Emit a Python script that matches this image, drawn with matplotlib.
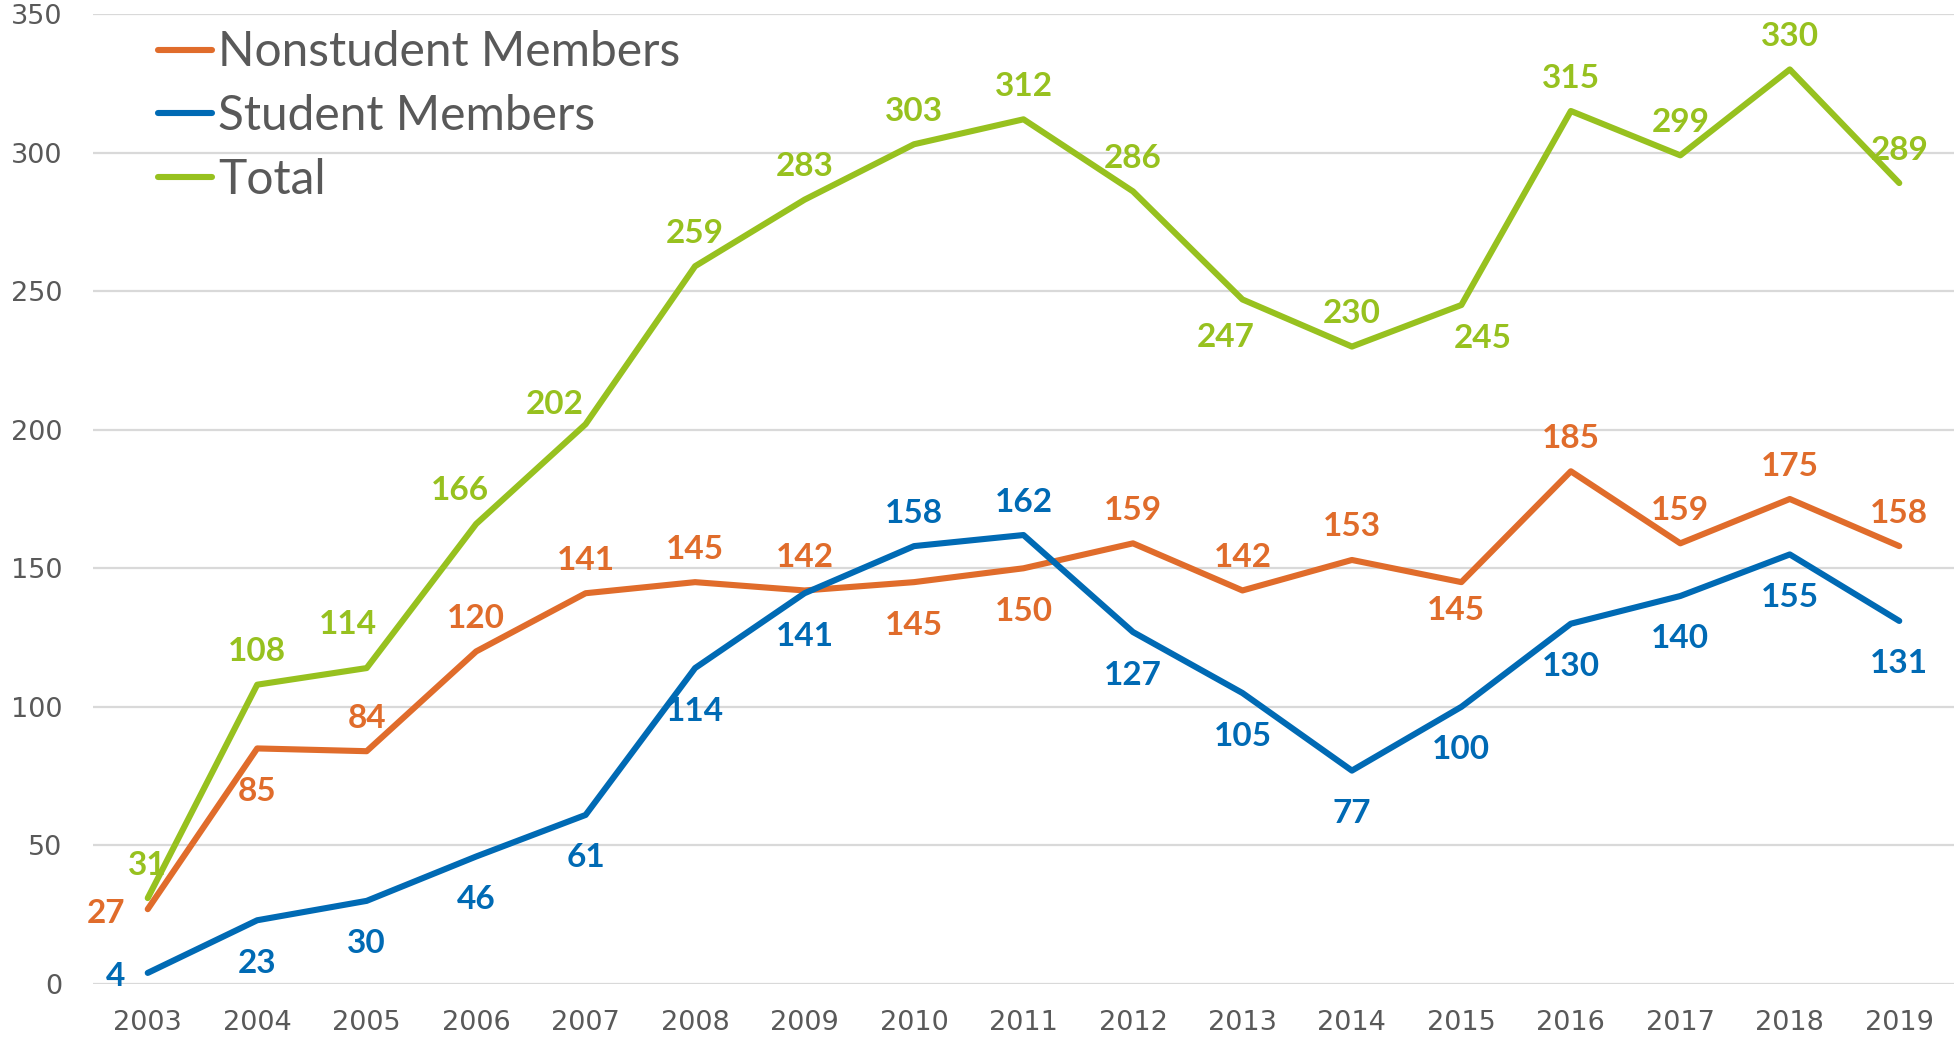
import numpy as np
import matplotlib.pyplot as plt

years = ["2003", "2004", "2005", "2006", "2007", "2008", "2009", "2010", "2011",
         "2012", "2013", "2014", "2015", "2016", "2017", "2018", "2019"]
nonstudent = [27, 85, 84, 120, 141, 145, 142, 145, 150, 159, 142, 153, 145, 185, 159, 175, 158]
student = [4, 23, 30, 46, 61, 114, 141, 158, 162, 127, 105, 77, 100, 130, 140, 155, 131]
total = [31, 108, 114, 166, 202, 259, 283, 303, 312, 286, 247, 230, 245, 315, 299, 330, 289]

# where each data label sits relative to its point
pos_non = ["l", "b", "a", "a", "a", "a", "a", "b", "b", "a", "a", "a", "b2", "a", "a", "a", "a"]
pos_stu = ["l", "b", "b", "b", "b", "b", "b", "a", "a", "b", "b", "b", "b", "b", "b", "b", "b"]
pos_tot = ["a", "a", "al1", "al2", "al3", "a", "a", "a", "a", "a", "bl", "a", "br", "a", "a", "a", "a"]

offsets = {
    "a": (0, 33, "center"), "b": (0, -43, "center"), "b2": (-5, -28, "center"),
    "l": (-22, -4, "right"),
    "al1": (-19, 44, "center"), "al2": (-16, 33, "center"), "al3": (-31, 20, "center"),
    "bl": (-17, -38, "center"), "br": (21, -33, "center"),
}

c_non = "#E06C2B"
c_stu = "#006AB4"
c_tot = "#97C11F"

fig = plt.figure(figsize=(19.54, 10.38), dpi=100)
ax = fig.add_axes([93 / 1954, 54 / 1038, 1 - 93 / 1954, 970 / 1038])

x = np.arange(len(years))
lw = 4.4
ax.plot(x, nonstudent, color=c_non, lw=lw, solid_capstyle="round", solid_joinstyle="round", label="Nonstudent Members", zorder=3)
ax.plot(x, student, color=c_stu, lw=lw, solid_capstyle="round", solid_joinstyle="round", label="Student Members", zorder=3)
ax.plot(x, total, color=c_tot, lw=lw, solid_capstyle="round", solid_joinstyle="round", label="Total", zorder=3)

lab_font = ["Lato", "DejaVu Sans"]
for vals, poss, col in [(nonstudent, pos_non, c_non), (student, pos_stu, c_stu), (total, pos_tot, c_tot)]:
    for i, (v, p) in enumerate(zip(vals, poss)):
        dx, dy, ha = offsets[p]
        ax.annotate(str(v), (x[i], v), xytext=(dx, dy), textcoords="offset pixels",
                    ha=ha, va="center", color=col, fontsize=24, fontweight="bold",
                    family=lab_font, zorder=4)

ax.set_xlim(-0.5, len(years) - 0.5)
ax.set_ylim(0, 350)
ax.set_yticks(np.arange(0, 351, 50))
ax.set_xticks(x)
ax.set_xticklabels(years)
ax.grid(axis="y", color="#D9D9D9", lw=1.6)
ax.set_axisbelow(True)
for s in ax.spines.values():
    s.set_visible(False)
ax.tick_params(length=0, labelsize=19.5, labelcolor="#595959", pad=22)
ax.tick_params(axis="x", pad=19)
for t in ax.get_xticklabels() + ax.get_yticklabels():
    t.set_family("DejaVu Sans")

leg = ax.legend(loc="upper left", bbox_to_anchor=(0.035, 0.983), frameon=False,
                borderaxespad=0, borderpad=0, handlelength=1.13,
                handletextpad=0.12, labelspacing=0.41,
                prop={"family": ["Lato", "DejaVu Sans"], "size": 34.5})
for t in leg.get_texts():
    t.set_color("#595959")

fig.savefig("out.png", dpi=100, facecolor="white")
